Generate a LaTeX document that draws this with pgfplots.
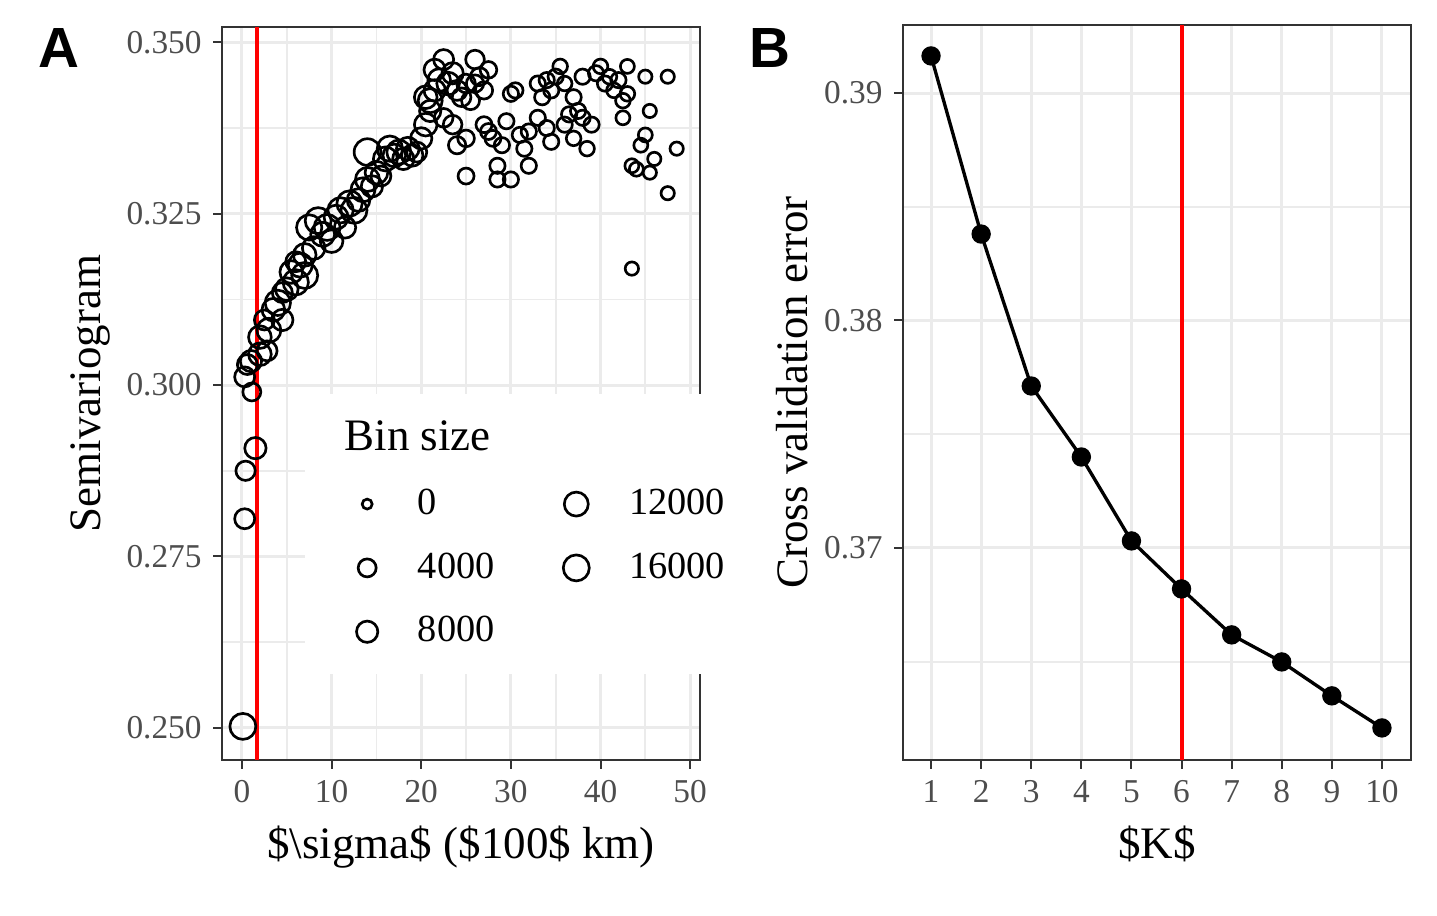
\documentclass[border=0pt]{standalone}
\usepackage{pgfplots}
\pgfplotsset{compat=1.18}
\usepackage{fontspec}
\setmainfont{Liberation Serif}
\newfontfamily\lsans{Liberation Sans}
\definecolor{gridc}{HTML}{EBEBEB}
\definecolor{framec}{HTML}{333333}
\definecolor{tickc}{HTML}{4D4D4D}
\begin{document}
\begin{tikzpicture}
\path[use as bounding box] (-66.6pt,-46.8pt) rectangle (364.5pt,228pt);
\pgfplotsset{
  common/.style={
    scale only axis, axis line style={framec, line width=0.6pt},
    tick style={framec, line width=0.6pt}, tick align=outside, major tick length=2.6pt,
    minor tick length=0pt,
    grid=both, major grid style={gridc, line width=0.9pt}, minor grid style={gridc, line width=0.5pt},
    tick label style={font=\fontsize{10}{12}\selectfont, text=tickc},
    label style={font=\fontsize{13.5}{16}\selectfont},
    /pgf/number format/assume math mode=true,
    xtick pos=bottom, ytick pos=left,
  }
}
\begin{axis}[common, at={(0,0)}, width=143.4pt, height=220pt,
  xmin=-2.23, xmax=51.1, ymin=0.2453, ymax=0.3523,
  xtick={0,10,20,30,40,50}, minor xtick={5,15,25,35,45},
  ytick={0.250,0.275,0.300,0.325,0.350}, minor ytick={0.2625,0.2875,0.3125,0.3375},
  yticklabel style={/pgf/number format/.cd, fixed, fixed zerofill, precision=3},
  xlabel={\$\textbackslash sigma\$ (\$100\$ km)},
  ylabel={Semivariogram},
  ylabel style={yshift=-2pt},
  legend columns=2,
  legend style={at={(axis cs:7.0,0.2578)}, anchor=south west, fill=white, draw=none,
    font=\fontsize{11.5}{14}\selectfont, inner xsep=10pt, inner ysep=6pt,
    row sep=6pt,
    /tikz/every odd column/.append style={column sep=10pt},
    /tikz/every even column/.append style={column sep=14pt}},
  legend cell align=left,
]
\addplot[red, line width=1.2pt, forget plot] coordinates {(1.67,0.2453) (1.67,0.3523)};
\addplot[scatter, only marks, mark=o, line width=0.8pt, point meta=\thisrow{r},
  scatter/use mapped color={draw=black, fill=none},
  visualization depends on={\thisrow{r}\as\rad},
  scatter/@pre marker code/.append style={/tikz/mark size=\rad pt}, forget plot]
table {
x y r
0.1 0.2502 3.9
0.3 0.2805 3.0
0.4 0.2875 2.9
1.5 0.2908 3.2
1.1 0.2990 2.7
0.3 0.3012 3.0
0.6 0.3030 3.0
1.0 0.3035 3.2
2.0 0.3045 3.4
2.8 0.3050 3.0
2.0 0.3070 3.4
3.0 0.3080 3.6
2.5 0.3095 3.0
3.5 0.3110 3.4
4.5 0.3095 3.2
4.0 0.3120 3.8
5.0 0.3140 3.4
4.5 0.3135 3.0
6.0 0.3150 3.8
5.5 0.3165 3.4
6.5 0.3175 3.6
7.0 0.3160 3.9
6.0 0.3180 3.0
7.0 0.3190 3.4
8.0 0.3200 3.4
7.5 0.3230 3.8
8.5 0.3240 3.9
9.0 0.3220 3.6
9.5 0.3230 3.9
10.0 0.3210 3.4
10.5 0.3245 3.6
11.0 0.3255 3.8
11.5 0.3230 3.2
12.0 0.3265 3.8
12.5 0.3255 3.9
13.0 0.3270 3.4
13.5 0.3285 3.6
14.0 0.3300 3.6
14.5 0.3290 3.2
15.0 0.3310 3.4
15.5 0.3305 3.0
14.0 0.3340 4.0
16.0 0.3330 3.6
16.5 0.3345 3.8
17.0 0.3335 3.4
17.5 0.3340 3.6
18.0 0.3330 3.2
18.5 0.3345 3.4
19.0 0.3335 3.2
19.5 0.3340 3.0
20.0 0.3360 3.2
20.5 0.3380 3.4
21.0 0.3400 3.2
21.0 0.3415 3.6
20.5 0.3420 3.4
21.5 0.3430 3.2
22.0 0.3445 3.4
21.5 0.3460 3.2
22.5 0.3475 3.0
23.0 0.3440 3.4
23.5 0.3455 3.2
24.0 0.3430 3.0
24.5 0.3420 2.8
25.0 0.3440 2.8
25.5 0.3415 2.7
26.0 0.3475 2.8
26.5 0.3450 2.7
27.0 0.3430 2.6
27.5 0.3460 2.5
23.5 0.3380 2.8
24.0 0.3350 2.6
25.0 0.3305 2.4
25.0 0.3360 2.5
27.0 0.3380 2.4
28.0 0.3360 2.4
28.5 0.3320 2.3
28.5 0.3300 2.3
29.0 0.3350 2.3
29.5 0.3385 2.3
30.0 0.3425 2.3
30.5 0.3430 2.3
30.0 0.3300 2.3
31.0 0.3365 2.3
31.5 0.3345 2.3
32.0 0.3370 2.3
32.0 0.3320 2.3
33.0 0.3390 2.3
33.0 0.3440 2.3
33.5 0.3420 2.3
34.0 0.3445 2.3
34.5 0.3430 2.3
35.0 0.3450 2.3
35.5 0.3465 2.2
34.0 0.3375 2.3
34.5 0.3355 2.3
36.0 0.3380 2.3
36.5 0.3395 2.3
37.0 0.3420 2.3
37.5 0.3400 2.3
38.0 0.3450 2.3
38.0 0.3390 2.3
38.5 0.3345 2.2
39.0 0.3380 2.3
39.5 0.3455 2.3
40.0 0.3465 2.2
40.5 0.3440 2.3
41.0 0.3450 2.2
41.5 0.3430 2.2
42.0 0.3445 2.3
42.5 0.3415 2.2
43.0 0.3425 2.2
43.0 0.3465 2.1
42.5 0.3390 2.1
43.5 0.3320 2.1
44.0 0.3315 2.1
44.5 0.3350 2.1
45.0 0.3365 2.1
45.0 0.3450 2.0
45.5 0.3400 2.0
45.5 0.3310 2.0
46.0 0.3330 2.0
47.5 0.3450 2.0
47.5 0.3280 2.0
48.5 0.3345 2.0
43.5 0.3170 2.0
37.0 0.3360 2.2
36.0 0.3440 2.2
26.0 0.3440 2.6
27.5 0.3370 2.4
22.5 0.3390 2.8
};
\addlegendimage{empty legend}\addlegendentry{\hspace{-22pt}\fontsize{13.5}{16}\selectfont Bin size}
\addlegendimage{empty legend}\addlegendentry{}
\addlegendimage{only marks, mark=o, mark size=1.5pt, line width=0.8pt, black}\addlegendentry{0}
\addlegendimage{only marks, mark=o, mark size=3.6pt, line width=0.8pt, black}\addlegendentry{12000}
\addlegendimage{only marks, mark=o, mark size=2.7pt, line width=0.8pt, black}\addlegendentry{4000}
\addlegendimage{only marks, mark=o, mark size=3.9pt, line width=0.8pt, black}\addlegendentry{16000}
\addlegendimage{only marks, mark=o, mark size=3.2pt, line width=0.8pt, black}\addlegendentry{8000}
\end{axis}
\node[font=\lsans\bfseries\fontsize{17}{20}\selectfont] at (-49pt,213.5pt) {A};
\node[font=\lsans\bfseries\fontsize{17}{20}\selectfont] at (164.5pt,213.5pt) {B};
\begin{axis}[common, at={(204.3pt,0)}, width=152.4pt, height=220.5pt,
  xmin=0.44, xmax=10.58, ymin=0.36068, ymax=0.39299,
  xtick={1,...,10}, minor xtick={},
  ytick={0.37,0.38,0.39}, minor ytick={0.365,0.375,0.385},
  yticklabel style={/pgf/number format/.cd, fixed, fixed zerofill, precision=2},
  xlabel={\$K\$}, ylabel={Cross validation error},
  ylabel style={yshift=-2pt},
]
\addplot[red, line width=1.2pt] coordinates {(6,0.36068) (6,0.39299)};
\addplot[black, line width=1pt, mark=*, mark size=2.4pt] coordinates {
(1,0.39163) (2,0.38380) (3,0.37712) (4,0.37400) (5,0.37031)
(6,0.36820) (7,0.36618) (8,0.36499) (9,0.36350) (10,0.36209)};
\end{axis}
\end{tikzpicture}
\end{document}
